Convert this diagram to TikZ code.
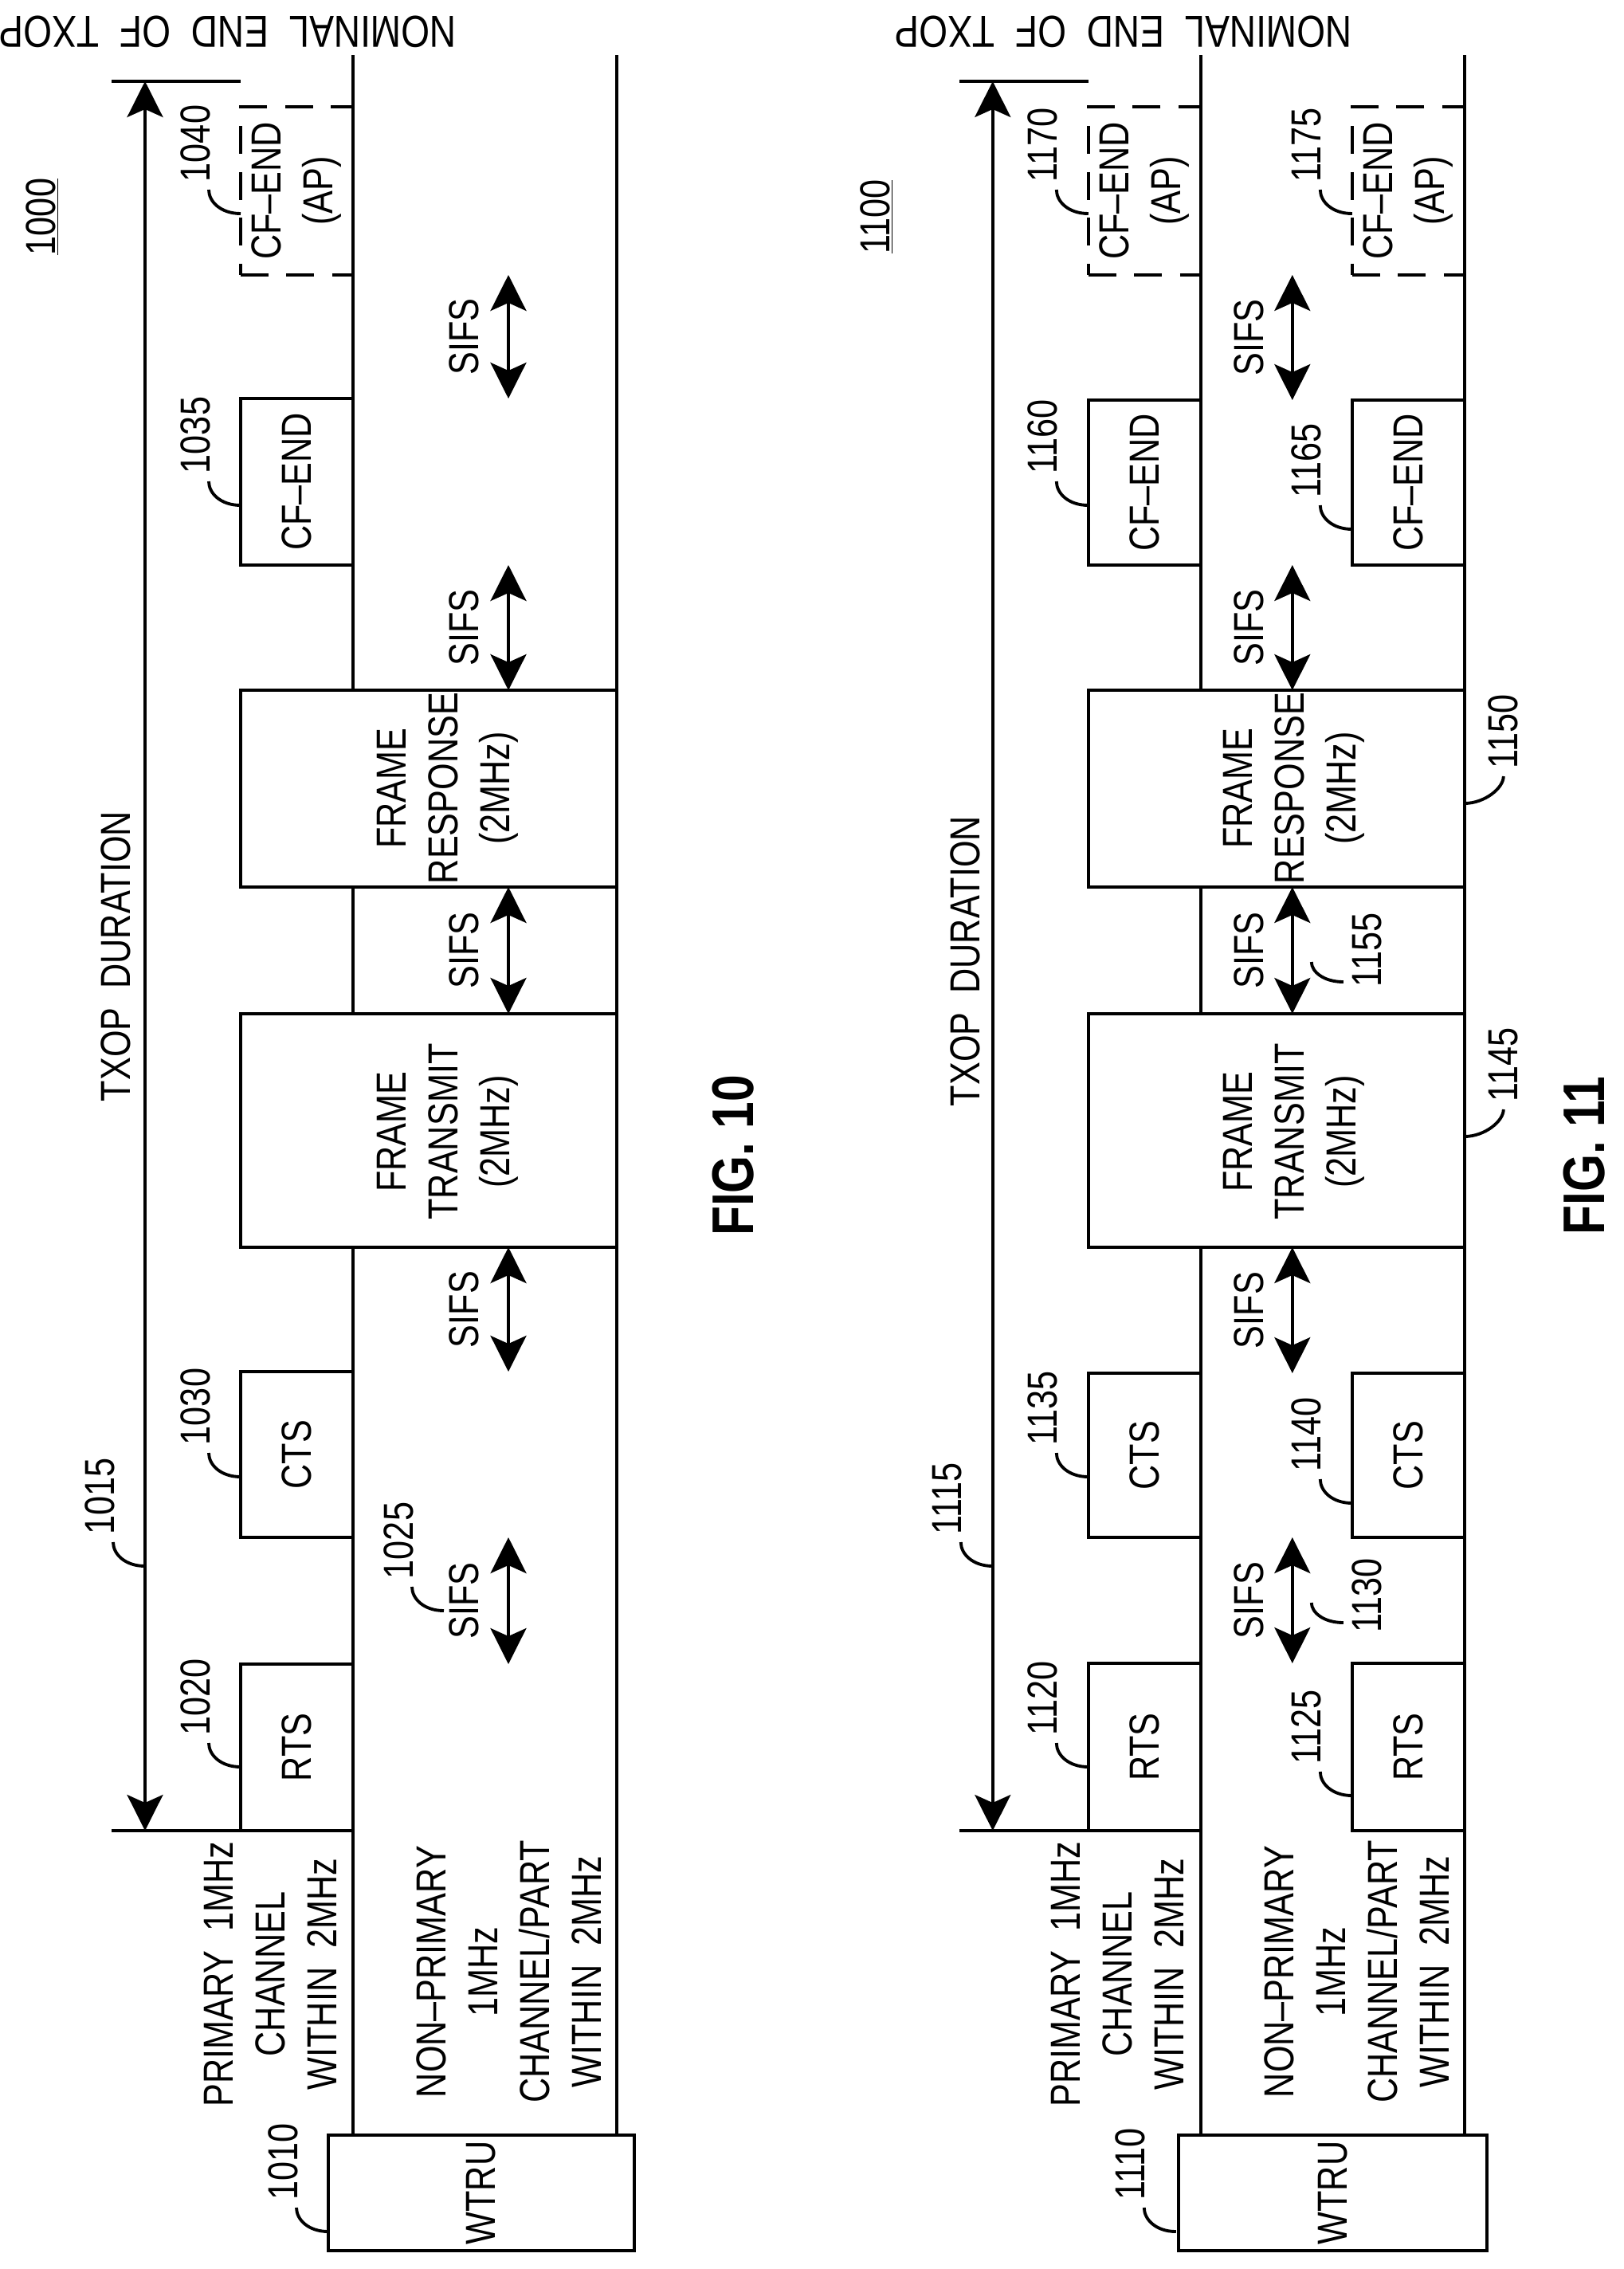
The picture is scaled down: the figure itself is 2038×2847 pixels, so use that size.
\documentclass[tikz,border=0pt]{standalone}
\usepackage{fontspec}
\setmainfont{Liberation Sans}[FakeStretch=0.82]
\usetikzlibrary{arrows.meta,fit}
\newcommand\leadL[3]{\draw (#1,#2) .. controls +(-25,0) and +(0,15) .. ++(-40,-30); \node[lab] at ({#1-57},{#2-38}) {#3};}
\newcommand\leadR[3]{\draw (#1,#2) .. controls +(25,0) and +(0,15) .. ++(49,-34); \node[lab] at ({#1+49},{#2-42}) {#3};}
\begin{document}
\begin{tikzpicture}[x=0.02cm,y=-0.02cm,line width=2.2pt,
 box/.style={draw,inner sep=0},
 dbox/.style={draw,dash pattern=on 0.7cm off 0.45cm,inner sep=0},
 t/.style={rotate=90,font=\fontsize{30}{37}\selectfont,align=center,inner sep=0},
 lab/.style={rotate=90,font=\fontsize{30}{37}\selectfont,inner sep=0,anchor=west},
 dbl/.style={{Stealth[length=0.9cm,width=0.9cm,inset=0.2cm]}-{Stealth[length=0.9cm,width=0.9cm,inset=0.2cm]}},
 fig/.style={rotate=90,font=\bfseries\fontsize{42}{50}\selectfont,inner sep=0},
 nom/.style={rotate=180,font=\fontsize{32}{40}\selectfont,inner sep=0}]
\useasboundingbox (0,0) rectangle (2038,2847);

% ================= FIG 10 =================
\node[nom] (nomA) at (286,40) {NOMINAL\ \ END\ \ OF\ \ TXOP};
\node[t] (numA) at (53,272) {\underline{1000}};
\node[fig] (figA) at (920,1450) {FIG. 10};
\draw (443,69)--(443,866) (443,1113)--(443,1272) (443,1565)--(443,2679);
\draw (774,69)--(774,2679);
\draw[dbl] (182,102)--(182,2297);
\draw (140,102)--(302,102);
\draw (140,2297)--(443,2297);
\node[t] (txA) at (145,1200) {TXOP\ \ DURATION};
\node[dbox,fit={(302,134)(443,345)}] (cfapA) {};
\node[t] at (cfapA) {CF--END\\(AP)};
\node[box,fit={(302,500)(443,709)}] (cfA) {};
\node[t] at (cfA) {CF--END};
\node[box,fit={(302,866)(774,1113)}] (respA) {};
\node[t] at (562,989) {FRAME\\RESPONSE\\(2MHz)};
\node[box,fit={(302,1272)(774,1565)}] (trA) {};
\node[t] at (562,1420) {FRAME\\TRANSMIT\\(2MHz)};
\node[box,fit={(302,1721)(443,1929)}] (ctsA) {};
\node[t] at (ctsA) {CTS};
\node[box,fit={(302,2088)(443,2297)}] (rtsA) {};
\node[t] at (rtsA) {RTS};
\node[box,fit={(412,2679)(796,2824)}] (wtruA) {};
\node[t] at (wtruA) {WTRU};
\node[t] at (339,2477) {PRIMARY\ \ 1MHz\\CHANNEL\\WITHIN\ \ 2MHz};
\node[t] at (639,2474) {NON--PRIMARY\\1MHz\\CHANNEL/PART\\WITHIN\ \ 2MHz};
\foreach \a/\b in {345/500,709/866,1113/1272,1565/1721,1929/2088}{
  \draw[dbl] (638,\a)--(638,\b);
  \node[t] at (582,{(\a+\b)/2}) {SIFS};}
\leadL{302}{268}{1040}
\leadL{302}{634}{1035}
\leadL{302}{1853}{1030}
\leadL{302}{2217}{1020}
\leadL{182}{1965}{1015}
\leadL{412}{2800}{1010}
\leadL{557}{2021}{1025}

% ================= FIG 11 =================
\node[nom] (nomB) at (1410,40) {NOMINAL\ \ END\ \ OF\ \ TXOP};
\node[t] (numB) at (1100,272) {\underline{1100}};
\node[fig] (figB) at (1988,1450) {FIG. 11};
\begin{scope}[xshift=21.28cm]
\draw (443,69)--(443,866) (443,1113)--(443,1272) (443,1565)--(443,2679);
\draw (774,69)--(774,2679);
\draw[dbl] (182,102)--(182,2297);
\draw (140,102)--(302,102);
\draw (140,2297)--(443,2297);
\node[t] (txB) at (148,1206) {TXOP\ \ DURATION};
\node[dbox,fit={(302,134)(443,345)}] (cfapB) {};
\node[t] at (cfapB) {CF--END\\(AP)};
\node[dbox,fit={(633,134)(774,345)}] (cfapC) {};
\node[t] at (cfapC) {CF--END\\(AP)};
\node[box,fit={(302,502)(443,709)}] (cfB) {};
\node[t] at (cfB) {CF--END};
\node[box,fit={(633,502)(774,709)}] (cfC) {};
\node[t] at (cfC) {CF--END};
\node[box,fit={(302,866)(774,1113)}] (respB) {};
\node[t] at (560,989) {FRAME\\RESPONSE\\(2MHz)};
\node[box,fit={(302,1272)(774,1565)}] (trB) {};
\node[t] at (560,1420) {FRAME\\TRANSMIT\\(2MHz)};
\node[box,fit={(302,1723)(443,1929)}] (ctsB) {};
\node[t] at (ctsB) {CTS};
\node[box,fit={(633,1723)(774,1929)}] (ctsC) {};
\node[t] at (ctsC) {CTS};
\node[box,fit={(302,2087)(443,2297)}] (rtsB) {};
\node[t] at (rtsB) {RTS};
\node[box,fit={(633,2087)(774,2297)}] (rtsC) {};
\node[t] at (rtsC) {RTS};
\node[box,fit={(415,2679)(802,2824)}] (wtruB) {};
\node[t] at (wtruB) {WTRU};
\node[t] at (339,2477) {PRIMARY\ \ 1MHz\\CHANNEL\\WITHIN\ \ 2MHz};
\node[t] at (639,2474) {NON--PRIMARY\\1MHz\\CHANNEL/PART\\WITHIN\ \ 2MHz};
\foreach \a/\b in {345/502,709/866,1113/1272,1565/1723,1929/2087}{
  \draw[dbl] (558,\a)--(558,\b);
  \node[t] at (504,{(\a+\b)/2}) {SIFS};}
\leadL{302}{268}{1170}
\leadL{302}{634}{1160}
\leadL{302}{1853}{1135}
\leadL{302}{2217}{1120}
\leadL{182}{1965}{1115}
\leadL{412}{2800}{1110}
\leadL{633}{268}{1175}
\leadL{633}{664}{1165}
\leadL{633}{1886}{1140}
\leadL{633}{2253}{1125}
\leadR{774}{1426}{1145}
\leadR{774}{1008}{1150}
\draw (622,1232) .. controls +(-25,0) and +(0,12) .. ++(-40,-25);
\node[lab] at (652,1240) {1155};
\draw (622,2036) .. controls +(-25,0) and +(0,12) .. ++(-40,-25);
\node[lab] at (652,2050) {1130};
\end{scope}
\end{tikzpicture}
\end{document}
